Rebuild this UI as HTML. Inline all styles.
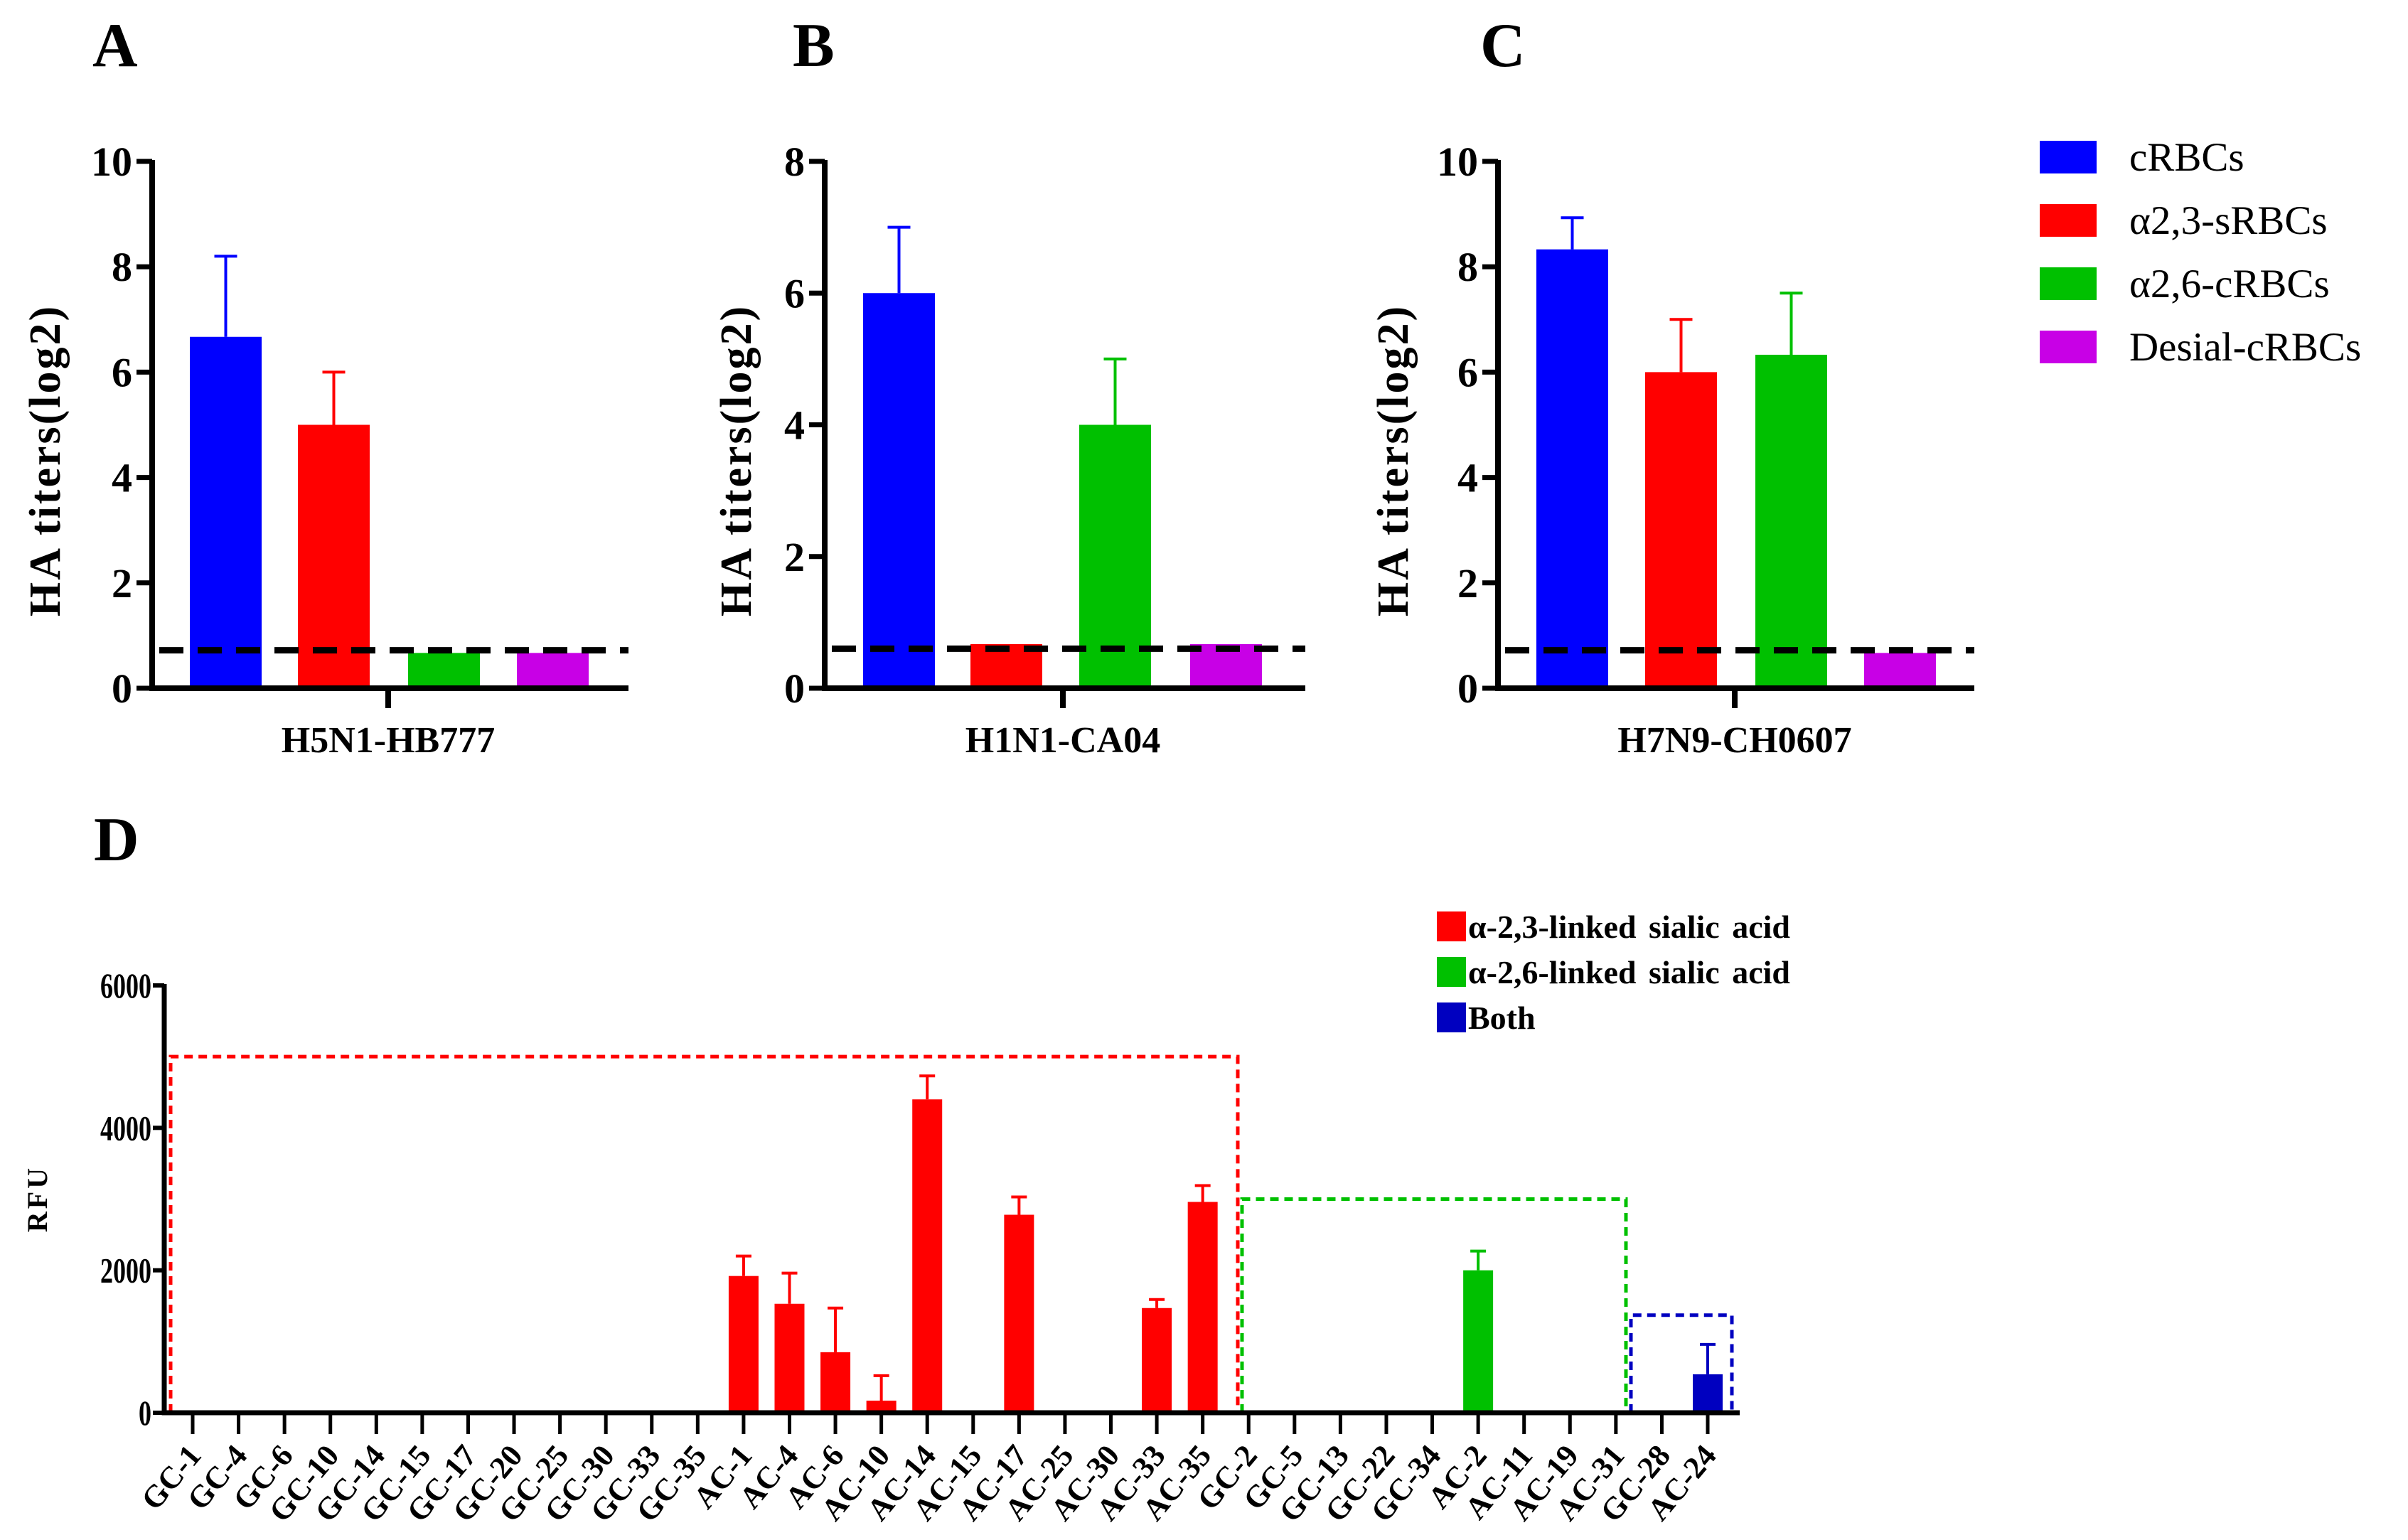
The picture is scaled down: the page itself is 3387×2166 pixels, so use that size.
<!DOCTYPE html>
<html><head><meta charset="utf-8"><style>
html,body{margin:0;padding:0;background:#fff}
svg{display:block;font-family:"Liberation Serif",serif}
text{font-family:"Liberation Serif",serif}
</style></head><body>
<svg id="fig" width="3387" height="2166" viewBox="0 0 3387 2166">
<g id="root"></g>
</svg>
<script>
// ---- Panels A-C data ----
const panelLetters = ["A","B","C"];
const panelCategories = ["H5N1-HB777","H1N1-CA04","H7N9-CH0607"];
const groupNames = ["cRBCs","α2,3-sRBCs","α2,6-cRBCs","Desial-cRBCs"];
const groupColors = ["#0000ff","#ff0000","#00c000","#c800e6"];
const meansA = [6.67, 5.0, 0.67, 0.67];
const errsA  = [1.53, 1.0, 0, 0];
const meansB = [6.0, 0.67, 4.0, 0.67];
const errsB  = [1.0, 0, 1.0, 0];
const meansC = [8.33, 6.0, 6.33, 0.67];
const errsC  = [0.6, 1.0, 1.17, 0];
const yMaxes = [10, 8, 10];
const yTicksA = [0,2,4,6,8,10];
const yTicksB = [0,2,4,6,8];
const yTicksC = [0,2,4,6,8,10];
const cutoffs = [0.72, 0.6, 0.72];

// ---- Panel D data ----
const dCategories = ["GC-1","GC-4","GC-6","GC-10","GC-14","GC-15","GC-17","GC-20","GC-25","GC-30","GC-33","GC-35","AC-1","AC-4","AC-6","AC-10","AC-14","AC-15","AC-17","AC-25","AC-30","AC-33","AC-35","GC-2","GC-5","GC-13","GC-22","GC-34","AC-2","AC-11","AC-19","AC-31","GC-28","AC-24"];
const dValues = [0,0,0,0,0,0,0,0,0,0,0,0,1920,1530,850,170,4400,0,2780,0,0,1470,2960,0,0,0,0,0,2000,0,0,0,0,540];
const dErrors = [0,0,0,0,0,0,0,0,0,0,0,0,280,430,620,350,330,0,250,0,0,120,230,0,0,0,0,0,270,0,0,0,0,420];
const dGroup  = [0,0,0,0,0,0,0,0,0,0,0,0,0,0,0,0,0,0,0,0,0,0,0,1,1,1,1,1,1,1,1,1,2,2];
const dTicks = [0,2000,4000,6000];
const dGroupNames = ["α-2,3-linked sialic acid","α-2,6-linked sialic acid","Both"];
const dGroupColors = ["#ff0000","#00c000","#0000c0"];
const dBoxTops = [5000, 3000, 1370];

const NS="http://www.w3.org/2000/svg";
const root=document.getElementById('root');
function mk(tag,attrs,parent){const e=document.createElementNS(NS,tag);for(const k in attrs)e.setAttribute(k,attrs[k]);(parent||root).appendChild(e);return e;}

const panelGeo=[
 {ax:214,end:884,bars:[267,419,574,727],tickX:546,titleX:62,letterX:130},
 {ax:1160,end:1836,bars:[1214,1365,1518,1674],tickX:1495,titleX:1034,letterX:1115},
 {ax:2107,end:2777,bars:[2161,2314,2469,2622],tickX:2440,titleX:1958,letterX:2082}
];
const allMeans=[meansA,meansB,meansC], allErrs=[errsA,errsB,errsC], allTicks=[yTicksA,yTicksB,yTicksC];
const y0=968, yTop=227, bw=101;

panelGeo.forEach((g,p)=>{
  const grp=mk('g',{});
  
  
  const Y=v=>y0-(v/yMaxes[p])*(y0-yTop);
  const L=mk('text',{x:g.letterX,y:93,'font-size':88,'font-weight':'bold'},grp);L.textContent=panelLetters[p];
  
  
  allMeans[p].forEach((v,i)=>{
    const b=mk('rect',{x:g.bars[i],y:Y(v),width:bw,height:y0-Y(v),fill:groupColors[i]},grp);
    
    
    const e=allErrs[p][i];
    if(e>0){
      const cx=g.bars[i]+bw/2;
      const eb=mk('path',{d:`M${cx} ${Y(v)}V${Y(v+e)}M${cx-16} ${Y(v+e)}H${cx+16}`,stroke:groupColors[i],'stroke-width':4,fill:'none'},grp);
      
      
    }
  });
  const c=mk('line',{x1:g.ax+10,x2:g.end,y1:Y(cutoffs[p]),y2:Y(cutoffs[p]),stroke:'#000','stroke-width':9,'stroke-dasharray':'34 20'},grp);
  
  
  const ax=mk('path',{d:`M${g.ax} ${yTop-2}V${y0}H${g.end}M${g.tickX} ${y0}V${y0+28}`,stroke:'#000','stroke-width':8,fill:'none'},grp);
  
  
  allTicks[p].forEach(t=>{
    mk('line',{x1:g.ax-22,x2:g.ax,y1:Y(t),y2:Y(t),stroke:'#000','stroke-width':7},grp);
    const tl=mk('text',{x:g.ax-28,y:Y(t)+20,'font-size':58,'font-weight':'bold','text-anchor':'end'},grp);tl.textContent=t;
    
    
  });
  const yt=mk('text',{x:0,y:0,'font-size':62,'font-weight':'bold','text-anchor':'middle','letter-spacing':3,transform:`translate(${g.titleX+22},${(y0+yTop)/2+50}) rotate(-90)`},grp);
  yt.textContent='HA titers(log2)';
  
  
  const xl=mk('text',{x:g.tickX,y:1058,'font-size':52,'font-weight':'bold','text-anchor':'middle'},grp);
  xl.textContent=panelCategories[p];
  
  
});

groupNames.forEach((n,i)=>{
  const yc=221+i*89;
  const r=mk('rect',{x:2869,y:yc-23,width:80,height:46,fill:groupColors[i]});
  
  
  const t=mk('text',{x:2995,y:yc+19,'font-size':57});t.textContent=n;
  
  
});

// ---- Panel D ----
const dg=mk('g',{});


const dX0=231, dY0=1987, dYT=1386, dXEnd=2447, dFirst=271, dStep=(2402-271)/33;
const DY=v=>dY0-(v/6000)*(dY0-dYT);
const DX=i=>dFirst+i*dStep;
const dl=mk('text',{x:132,y:1210,'font-size':88,'font-weight':'bold'},dg);dl.textContent='D';


const boxEdges=[[240,1741],[1747,2287],[2294,2436]];
boxEdges.forEach((r,k)=>{
  const x1=r[0], x2=r[1];
  const b=mk('path',{d:`M${x1} ${dY0}V${DY(dBoxTops[k])}H${x2}V${dY0}H${x1}`,stroke:dGroupColors[k],'stroke-width':5,fill:'none','stroke-dasharray':'12 8'},dg);
  
  
});
dCategories.forEach((c,i)=>{
  const cx=DX(i), v=dValues[i], col=dGroupColors[dGroup[i]];
  if(v>0){
    const b=mk('rect',{x:cx-21,y:DY(v),width:42,height:dY0-DY(v),fill:col},dg);
    
    
    const e=dErrors[i];
    const eb=mk('path',{d:`M${cx} ${DY(v)}V${DY(v+e)}M${cx-11} ${DY(v+e)}H${cx+11}`,stroke:col,'stroke-width':4,fill:'none'},dg);
    
    
  }
  mk('line',{x1:cx,x2:cx,y1:dY0,y2:2017,stroke:'#000','stroke-width':5},dg);
  const t=mk('text',{x:0,y:0,'font-size':44,'font-weight':'bold','text-anchor':'end',transform:`translate(${cx+14},${2048}) rotate(-50)`},dg);
  t.textContent=c;
  
  
});
const dax=mk('path',{d:`M${dX0} ${dYT-2}V${dY0}H${dXEnd}`,stroke:'#000','stroke-width':7,fill:'none'},dg);


dTicks.forEach(t=>{
  mk('line',{x1:dX0-16,x2:dX0,y1:DY(t),y2:DY(t),stroke:'#000','stroke-width':6},dg);
  const tl=mk('text',{x:0,y:0,'font-size':50,'font-weight':'bold','text-anchor':'end',transform:`translate(${dX0-18},${DY(t)+17}) scale(0.72,1)`},dg);
  tl.textContent=t;
  
  
});
const rfu=mk('text',{x:0,y:0,'font-size':40,'font-weight':'bold','text-anchor':'middle','letter-spacing':4,transform:`translate(66,1686) rotate(-90)`},dg);
rfu.textContent='RFU';


dGroupNames.forEach((n,i)=>{
  const yt=1282+i*64;
  const r=mk('rect',{x:2021,y:yt,width:41,height:42,fill:dGroupColors[i]},dg);
  
  
  const t=mk('text',{x:2065,y:yt+37,'font-size':46,'font-weight':'bold','word-spacing':6},dg);
  t.textContent=n;
  
  
});
</script>
</body></html>
